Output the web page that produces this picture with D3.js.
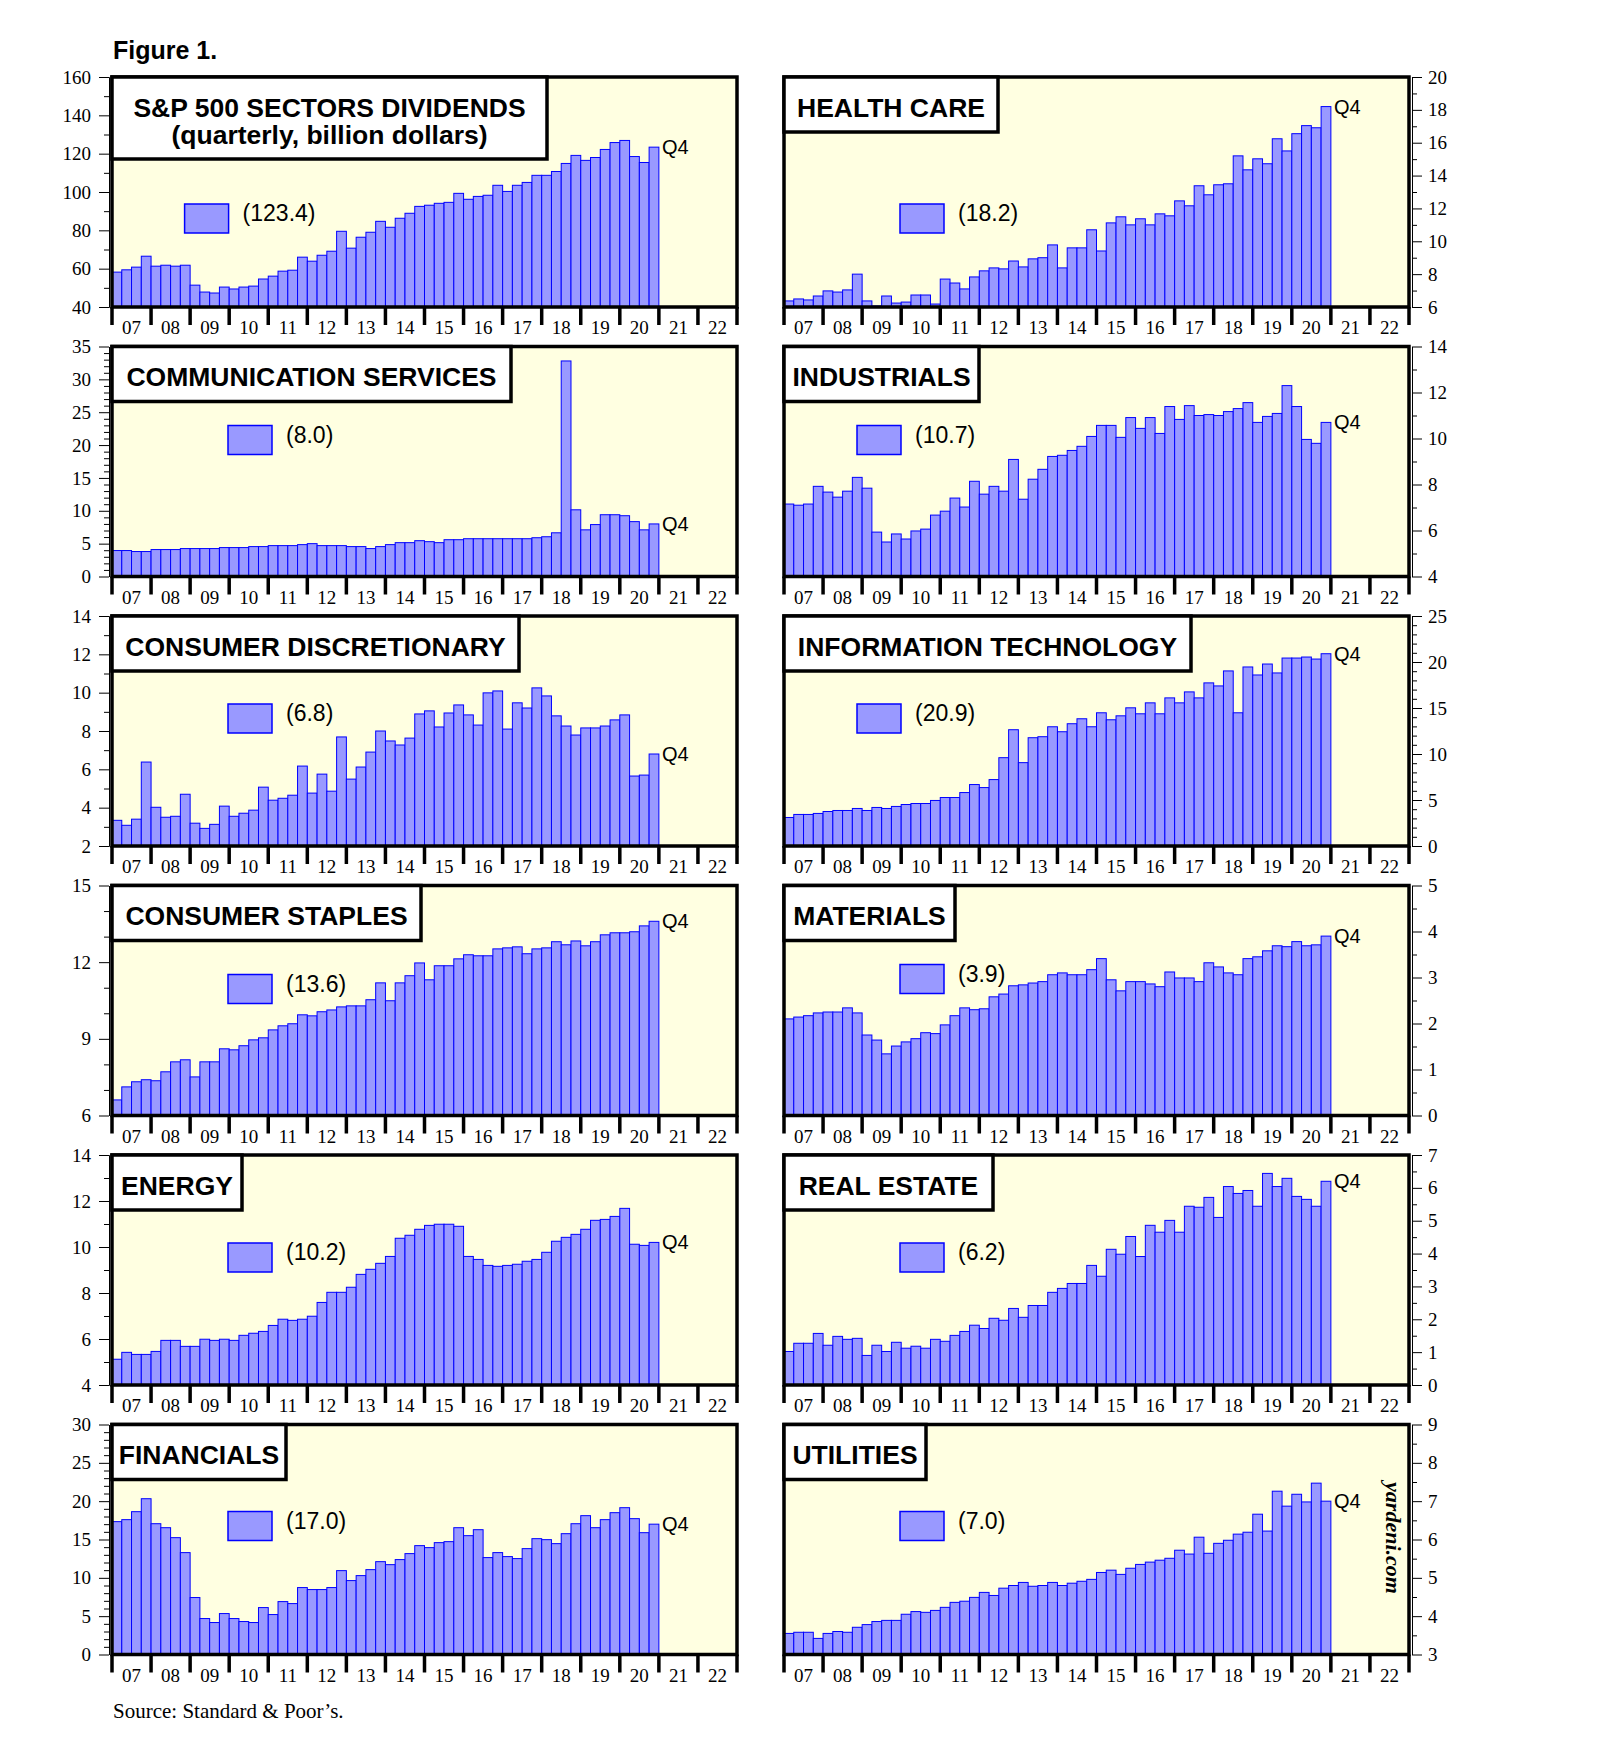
<!DOCTYPE html>
<html><head><meta charset="utf-8">
<script src="https://cdn.jsdelivr.net/npm/d3@7"></script>
<style>body{margin:0;background:#fff}</style>
</head><body>
<svg id="chart" width="1610" height="1751"></svg>
<script>
// ---------- DATA ----------
const yearLabels = ["07","08","09","10","11","12","13","14","15","16","17","18","19","20","21","22"];
const quarterNames = ["Q1","Q2","Q3","Q4"];
const allQuarters = yearLabels.flatMap(y => quarterNames.map(q => y + q));

const sp500 = [58.2,59.4,60.8,66.5, 61.3,61.8,61.3,61.8, 51.4,47.8,47.3,50.4, 49.4,50.4,50.9,54.6, 56.1,58.7,59.2,66.0, 63.9,67.0,69.1,79.5, 70.7,76.4,79.0,84.7, 81.6,86.3,88.9,92.5, 93.1,94.1,94.6,99.3, 96.2,97.7,98.3,103.5, 100.3,103.5,105.0,108.7, 108.7,110.7,114.9,119.1, 116.5,118.0,122.2,125.8, 126.9,118.5,115.4,123.4];
const healthCare = [6.37,6.49,6.43,6.67, 6.98,6.91,7.04,8.0, 6.37,6.06,6.67,6.24, 6.3,6.73,6.73,6.18, 7.7,7.46,7.1,7.83, 8.2,8.38,8.32,8.8, 8.44,8.93,9.0,9.78, 8.38,9.6,9.6,10.7, 9.41,11.12,11.49,11.0, 11.37,11.0,11.67,11.55, 12.46,12.16,13.38,12.83, 13.44,13.5,15.2,14.35, 15.02,14.72,16.24,15.5, 16.55,17.04,16.91,18.2];
const commServices = [3.95,3.95,3.8,3.8, 4.1,4.1,4.1,4.25, 4.25,4.25,4.25,4.4, 4.4,4.4,4.55,4.55, 4.7,4.7,4.7,4.85, 5.0,4.7,4.7,4.7, 4.55,4.55,4.25,4.55, 4.85,5.15,5.15,5.45, 5.3,5.15,5.6,5.6, 5.75,5.75,5.75,5.75, 5.75,5.75,5.75,5.9, 6.05,6.65,32.8,10.15, 7.1,7.9,9.4,9.4, 9.25,8.35,7.1,8.0];
const industrials = [7.15,7.1,7.15,7.92, 7.67,7.45,7.71,8.31, 7.84,5.93,5.5,5.85, 5.63,5.98,6.06,6.67, 6.84,7.41,7.02,8.14, 7.58,7.92,7.71,9.09, 7.36,8.23,8.66,9.22, 9.27,9.48,9.66,10.09, 10.57,10.57,10.05,10.91, 10.44,10.91,10.22,11.39, 10.83,11.43,11.0,11.04, 11.0,11.17,11.3,11.56, 10.7,10.96,11.09,12.3, 11.39,9.96,9.79,10.7];
const consDiscretionary = [3.34,3.08,3.4,6.38, 4.02,3.5,3.55,4.7, 3.19,2.92,3.13,4.08, 3.55,3.71,3.87,5.07, 4.39,4.49,4.65,6.17, 4.76,5.75,4.86,7.69, 5.49,6.12,6.9,8.0, 7.48,7.27,7.63,8.89, 9.05,8.21,8.94,9.36, 8.84,8.31,9.99,10.09, 8.1,9.47,9.2,10.25, 9.83,8.79,8.26,7.79, 8.16,8.16,8.26,8.58, 8.84,5.65,5.7,6.8];
const infoTech = [3.1,3.43,3.43,3.54, 3.75,3.86,3.86,4.08, 3.86,4.19,4.08,4.3, 4.51,4.62,4.62,4.95, 5.27,5.27,5.81,6.68, 6.35,7.22,9.6,12.64, 9.06,11.77,11.88,12.96, 12.42,13.29,13.83,12.96, 14.48,13.72,14.15,15.02, 14.37,15.56,14.37,16.1, 15.56,16.75,16.1,17.73, 17.4,19.03,14.48,19.46, 18.59,19.78,18.81,20.43, 20.43,20.54,20.32,20.9];
const consStaples = [6.61,7.12,7.32,7.4, 7.36,7.71,8.1,8.18, 7.51,8.1,8.1,8.61, 8.57,8.73,8.96,9.04, 9.35,9.51,9.59,9.94, 9.9,10.06,10.13,10.25, 10.29,10.29,10.53,11.19, 10.49,11.19,11.47,11.97, 11.31,11.86,11.86,12.13, 12.29,12.25,12.25,12.52, 12.56,12.6,12.33,12.52, 12.56,12.8,12.68,12.83, 12.64,12.8,13.07,13.15, 13.15,13.19,13.42,13.6];
const materials = [2.1,2.14,2.17,2.23, 2.25,2.25,2.34,2.23, 1.75,1.64,1.34,1.51, 1.6,1.67,1.8,1.78, 1.97,2.17,2.34,2.3, 2.32,2.58,2.64,2.82, 2.84,2.88,2.91,3.06, 3.1,3.06,3.06,3.17, 3.41,2.95,2.71,2.91, 2.91,2.86,2.8,3.12, 2.99,2.99,2.91,3.32, 3.23,3.1,3.06,3.41, 3.45,3.58,3.69,3.67, 3.78,3.69,3.71,3.9];
const energy = [5.12,5.42,5.33,5.33, 5.46,5.94,5.94,5.68, 5.68,5.99,5.94,5.99, 5.94,6.16,6.25,6.33, 6.59,6.86,6.81,6.86, 6.99,7.59,8.03,8.03, 8.25,8.81,9.03,9.29, 9.59,10.38,10.51,10.77, 10.94,10.99,10.99,10.9, 9.59,9.46,9.2,9.16, 9.2,9.25,9.38,9.46, 9.77,10.25,10.42,10.55, 10.77,11.16,11.2,11.33, 11.68,10.12,10.07,10.2];
const realEstate = [1.02,1.27,1.27,1.57, 1.21,1.48,1.39,1.42, 0.9,1.21,1.02,1.3, 1.12,1.18,1.12,1.39, 1.33,1.51,1.63,1.82, 1.72,2.03,1.97,2.33, 2.06,2.42,2.42,2.82, 2.94,3.09,3.09,3.64, 3.31,4.13,3.98,4.52, 3.91,4.86,4.65,5.01, 4.65,5.44,5.41,5.71, 5.1,6.04,5.83,5.92, 5.44,6.44,6.04,6.29, 5.74,5.65,5.44,6.2];
const financials = [17.33,17.59,18.63,20.32, 17.06,16.54,15.24,13.29, 7.43,4.69,4.17,5.34, 4.69,4.3,4.17,6.12, 5.21,6.9,6.64,8.73, 8.47,8.47,8.73,10.94, 9.64,10.29,11.07,12.11, 11.72,12.38,13.16,14.2, 13.94,14.59,14.72,16.54, 15.5,16.28,12.64,13.29, 12.77,12.51,13.81,15.11, 14.98,14.46,15.76,17.06, 18.11,16.54,17.59,18.5, 19.15,17.72,15.89,17.0];
const utilities = [3.55,3.58,3.58,3.42, 3.55,3.6,3.58,3.71, 3.78,3.86,3.89,3.89, 4.05,4.12,4.1,4.15, 4.23,4.36,4.39,4.49, 4.62,4.54,4.73,4.8, 4.88,4.78,4.8,4.88, 4.8,4.86,4.91,4.96, 5.14,5.2,5.09,5.25, 5.35,5.41,5.46,5.51, 5.72,5.62,6.06,5.64, 5.9,5.98,6.14,6.19, 6.66,6.22,7.26,6.87, 7.18,6.98,7.47,7.0];

// ---------- LAYOUT ----------
const panels = [
  {title:["S&P 500 SECTORS DIVIDENDS","(quarterly, billion dollars)"], values:sp500, domain:[40,160], major:20, minor:10, col:0, row:0, lx:72.6, ly:127, boxW:435, boxH:82},
  {title:["HEALTH CARE"], values:healthCare, domain:[6,20], major:2, minor:1, col:1, row:0, lx:116, ly:127, boxW:214, boxH:55},
  {title:["COMMUNICATION SERVICES"], values:commServices, domain:[0,35], major:5, minor:1, col:0, row:1, lx:116, ly:79, boxW:399, boxH:55},
  {title:["INDUSTRIALS"], values:industrials, domain:[4,14], major:2, minor:1, col:1, row:1, lx:73, ly:79, boxW:195, boxH:55},
  {title:["CONSUMER DISCRETIONARY"], values:consDiscretionary, domain:[2,14], major:2, minor:1, col:0, row:2, lx:116, ly:88, boxW:407, boxH:55},
  {title:["INFORMATION TECHNOLOGY"], values:infoTech, domain:[0,25], major:5, minor:1, col:1, row:2, lx:73, ly:88, boxW:407, boxH:55},
  {title:["CONSUMER STAPLES"], values:consStaples, domain:[6,15], major:3, minor:1, col:0, row:3, lx:116, ly:89, boxW:309, boxH:55},
  {title:["MATERIALS"], values:materials, domain:[0,5], major:1, minor:0.5, col:1, row:3, lx:116, ly:79, boxW:171, boxH:55},
  {title:["ENERGY"], values:energy, domain:[4,14], major:2, minor:1, col:0, row:4, lx:116, ly:88, boxW:130, boxH:55},
  {title:["REAL ESTATE"], values:realEstate, domain:[0,7], major:1, minor:0.5, col:1, row:4, lx:116, ly:88, boxW:209, boxH:55},
  {title:["FINANCIALS"], values:financials, domain:[0,30], major:5, minor:1, col:0, row:5, lx:116, ly:87, boxW:174, boxH:55},
  {title:["UTILITIES"], values:utilities, domain:[3,9], major:1, minor:0.5, col:1, row:5, lx:116, ly:87, boxW:142, boxH:55}
];

const colX = [[112,737],[784,1409]];
const rowTop = 77, rowStep = 269.5, panelH = 230;
const FILL = "#9999ff", STROKE = "#0000ff", BG = "#ffffe1";
const SANS = "'Liberation Sans', Arial, Helvetica, sans-serif";
const SERIF = "'Liberation Serif', 'Times New Roman', Times, serif";

const svg = d3.select("#chart");

svg.append("text").attr("x",113).attr("y",59)
  .attr("font-family",SANS).attr("font-weight","bold").attr("font-size",25)
  .text("Figure 1.");

panels.forEach(p => {
  const [x0,x1] = colX[p.col];
  const y0 = rowTop + p.row*rowStep, y1 = y0 + panelH;
  const x = d3.scaleBand().domain(allQuarters).range([x0,x1]).padding(0);
  const y = d3.scaleLinear().domain(p.domain).range([y1,y0]);
  const g = svg.append("g");

  g.append("rect").attr("x",x0).attr("y",y0).attr("width",x1-x0).attr("height",y1-y0).attr("fill",BG);

  g.append("g").selectAll("rect").data(p.values).join("rect")
    .attr("x",(d,i)=>x(allQuarters[i])).attr("width",x.bandwidth())
    .attr("y",d=>y(d)).attr("height",d=>y1-y(d))
    .attr("fill",FILL).attr("stroke",STROKE).attr("stroke-width",1);

  // y axis
  const nMinor = Math.round((p.domain[1]-p.domain[0])/p.minor);
  const all = d3.range(0,nMinor+1).map(i => p.domain[0] + i*p.minor);
  const isMajor = v => Math.abs((v-p.domain[0])/p.major - Math.round((v-p.domain[0])/p.major)) < 1e-6;
  const majorT = all.filter(isMajor), minorT = all.filter(v => !isMajor(v));
  const left = p.col === 0;
  const axX = left ? x0-3 : x1+3;
  const mk = left ? d3.axisLeft : d3.axisRight;
  const ax = g.append("g").attr("transform",`translate(${axX},0)`)
    .call(mk(y).tickValues(majorT).tickSize(10).tickSizeOuter(0).tickPadding(left?8:6).tickFormat(d3.format("d")));
  ax.selectAll("text").attr("font-family",SERIF).attr("font-size",19).attr("fill","#000");
  ax.selectAll("line,path").attr("stroke","#000").attr("stroke-width",1);
  const ax2 = g.append("g").attr("transform",`translate(${axX},0)`)
    .call(mk(y).tickValues(minorT).tickSize(5).tickSizeOuter(0).tickFormat(""));
  ax2.selectAll("line,path").attr("stroke","#000").attr("stroke-width",1);

  // frame
  g.append("rect").attr("x",x0).attr("y",y0).attr("width",x1-x0).attr("height",y1-y0)
    .attr("fill","none").attr("stroke","#000").attr("stroke-width",3.5);

  // x axis: year ticks and labels
  const bw = x.bandwidth();
  const tickXs = yearLabels.map(yy => x(yy+"Q1")).concat([x1]);
  g.append("g").selectAll("line").data(tickXs).join("line")
    .attr("x1",d=>d).attr("x2",d=>d).attr("y1",y1).attr("y2",y1+18)
    .attr("stroke","#000").attr("stroke-width",3.5);
  g.append("g").selectAll("text").data(yearLabels).join("text")
    .attr("x",yy => x(yy+"Q1") + 2*bw).attr("y",y1+27)
    .attr("text-anchor","middle").attr("font-family",SERIF).attr("font-size",19)
    .text(d=>d);

  // title box
  const tg = g.append("g");
  tg.append("rect").attr("x",x0).attr("y",y0).attr("width",p.boxW).attr("height",p.boxH)
    .attr("fill","#fff").attr("stroke","#000").attr("stroke-width",3.5);
  tg.selectAll("text").data(p.title).join("text")
    .attr("font-family",SANS).attr("font-weight","bold").attr("font-size",26.5)
    .attr("x",x0+p.boxW/2).attr("text-anchor","middle").attr("y",(d,i)=>y0+39.5+i*27)
    .text(d=>d);

  // legend
  const last = p.values[p.values.length-1];
  g.append("rect").attr("x",x0+p.lx).attr("y",y0+p.ly).attr("width",44).attr("height",29)
    .attr("fill",FILL).attr("stroke",STROKE).attr("stroke-width",1.5);
  g.append("text").attr("x",x0+p.lx+58).attr("y",y0+p.ly+17)
    .attr("font-family",SANS).attr("font-size",23).text("(" + d3.format(".1f")(last) + ")");

  // Q4 label
  const li = p.values.length-1;
  g.append("text").attr("x",x(allQuarters[li])+bw+3).attr("y",y(last))
    .attr("dominant-baseline","central")
    .attr("font-family",SANS).attr("font-size",20).text("Q4");

  if (p.values === utilities) {
    g.append("text").attr("transform",`translate(1386,1538) rotate(90)`)
      .attr("text-anchor","middle").attr("font-family",SERIF)
      .attr("font-weight","bold").attr("font-style","italic").attr("font-size",22)
      .text("yardeni.com");
  }
});

svg.append("text").attr("x",113).attr("y",1718)
  .attr("font-family",SERIF).attr("font-size",21)
  .text("Source: Standard & Poor\u2019s.");
</script>
</body></html>
